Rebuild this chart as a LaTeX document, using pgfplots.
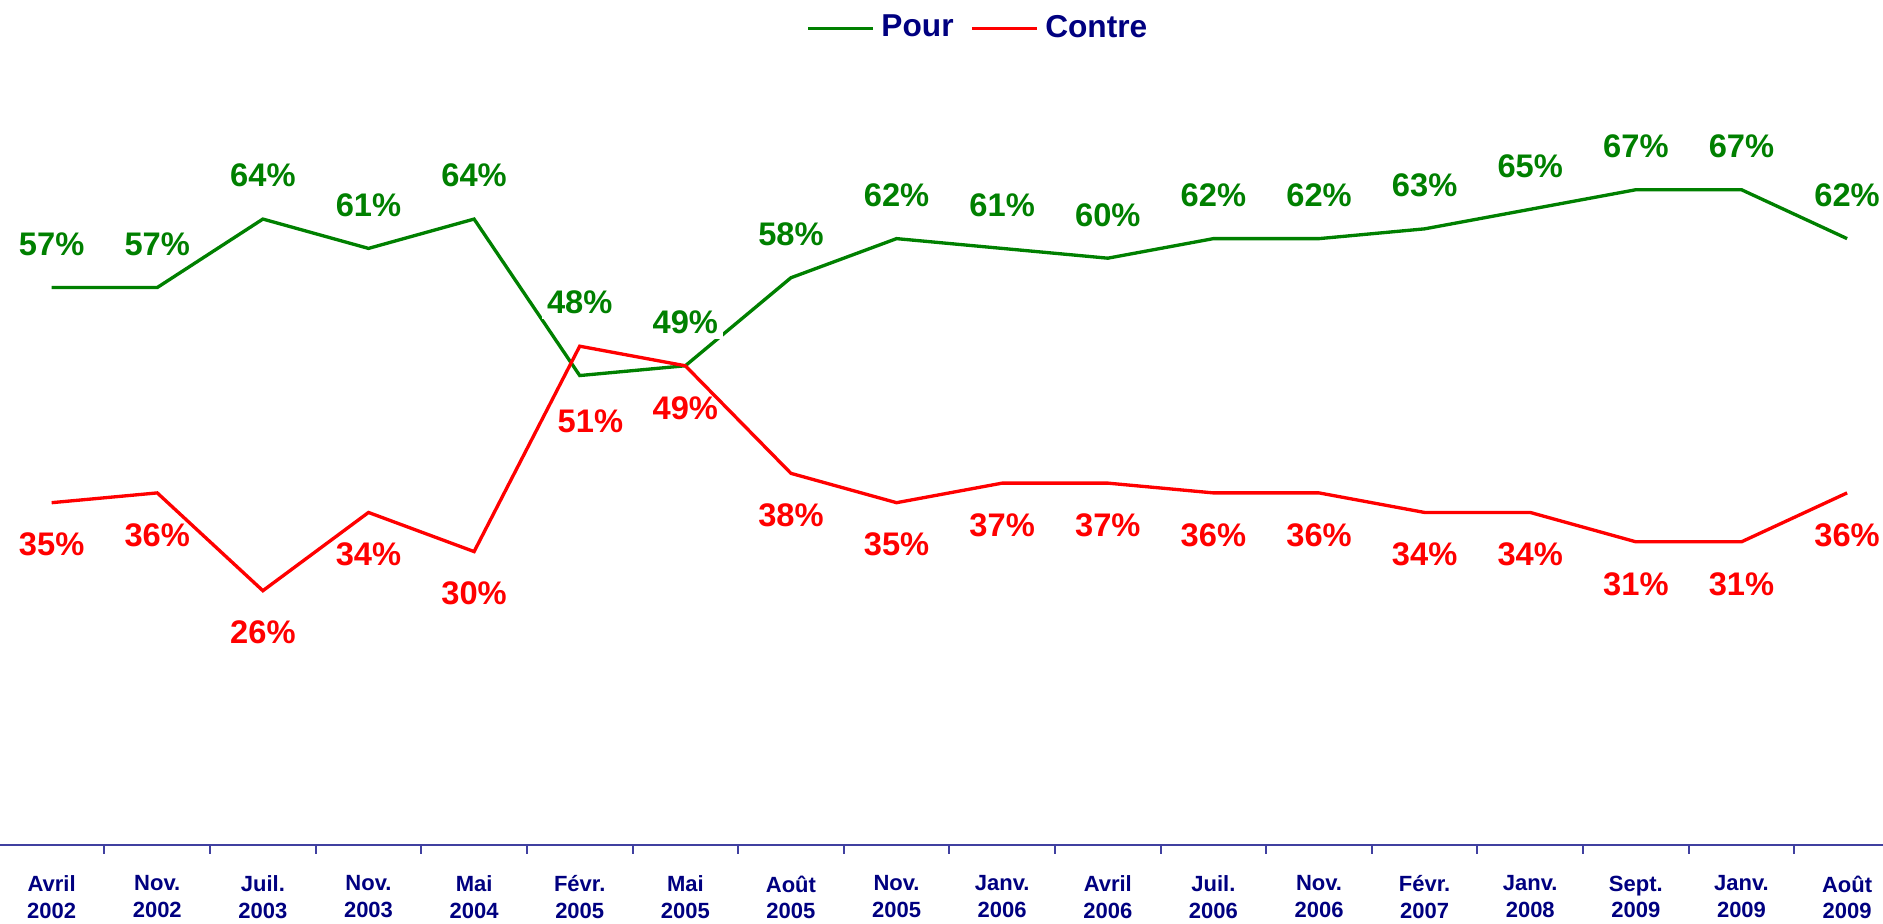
\documentclass[border=0pt]{standalone}
\usepackage{fontspec}
\setmainfont{Liberation Sans}
\usepackage{pgfplots}
\usepackage{pgfplotstable}
\pgfplotsset{compat=1.18}
\definecolor{pourgreen}{RGB}{0,128,0}
\definecolor{contrered}{RGB}{255,0,0}
\definecolor{navytext}{RGB}{0,0,128}
\definecolor{axisblue}{RGB}{64,64,160}

% x: survey index; pdy/cdy/cdx: extra label offsets (pt)
\pgfplotstableread{
x pour contre pdy cdy cdx
0 57 35 0 0 0
1 57 36 0 0 0
2 64 26 0 0 0
3 61 34 0 0 0
4 64 30 0 0 0
5 48 51 9 10 3.2
6 49 49 0 0 0
7 58 38 0 0 0
8 62 35 0 0 0
9 61 37 0 0 0
10 60 37 0 0 0
11 62 36 0 0 0
12 62 36 0 0 0
13 63 34 0 0 0
14 65 34 0 0 0
15 67 31 0 0 0
16 67 31 0 0 0
17 62 36 0 0 0
}\data

\begin{document}
\begin{tikzpicture}
\begin{axis}[
    name=main,
    scale only axis,
    width=564.9pt, height=253.5pt,
    xmin=-0.489, xmax=17.34,
    ymin=0, ymax=86.4,
    /pgf/number format/assume math mode=true,
    axis x line=bottom,
    axis y line=none,
    axis line style={-, draw=axisblue, line width=0.6pt},
    xtick={0,...,17},
    major tick length=0pt,
    minor xtick={0.5,1.5,...,16.5},
    minor tick length=2.7pt,
    tick align=outside,
    tick style={draw=axisblue, line width=0.6pt},
    xticklabels={{Avril\\2002},{Nov.\\2002},{Juil.\\2003},{Nov.\\2003},{Mai\\2004},{Févr.\\2005},{Mai\\2005},{Août\\2005},{Nov.\\2005},{Janv.\\2006},{Avril\\2006},{Juil.\\2006},{Nov.\\2006},{Févr.\\2007},{Janv.\\2008},{Sept.\\2009},{Janv.\\2009},{Août\\2009}},
    xticklabel style={align=center, font=\fontsize{6.6}{8}\selectfont\bfseries,
        text=navytext, yshift=-5.7pt, execute at begin node=\strut},
    legend columns=2,
    legend style={at={(0.5188,1)}, anchor=north, yshift=-0.3pt, draw=none, fill=none,
        font=\fontsize{9.5}{11}\selectfont\bfseries, text=navytext,
        nodes={inner xsep=0pt},
        /tikz/every odd column/.append style={column sep=2pt},
        /tikz/every even column/.append style={column sep=5pt}},
    legend image code/.code={\draw[#1] (0pt,0pt) -- (19.5pt,0pt);},
    nodes near coords={\pgfmathprintnumber{\pgfplotspointmeta}\%},
    clip=false,
]
\addplot[pourgreen, line width=1pt, no markers,
    visualization depends on={\thisrow{pdy} \as \pdy},
    every node near coord/.append style={anchor=center, fill=white, inner sep=1.5pt,
        text=pourgreen, font=\fontsize{9.8}{11}\selectfont\bfseries,
        yshift={(13+\pdy)*1pt}}]
    table[x=x, y=pour] {\data};
\addlegendentry{Pour}
\addplot[contrered, line width=1pt, no markers,
    visualization depends on={\thisrow{cdy} \as \cdy},
    visualization depends on={\thisrow{cdx} \as \cdx},
    every node near coord/.append style={anchor=center, inner sep=1.5pt,
        text=contrered, font=\fontsize{9.8}{11}\selectfont\bfseries,
        yshift={-(12.6+\cdy)*1pt}, xshift={\cdx*1pt}}]
    table[x=x, y=contre] {\data};
\addlegendentry{Contre}
\end{axis}
% fix the page to the plot area plus the tick label band
\pgfresetboundingbox
\path (main.north west) rectangle ([yshift=-23.7pt]main.south east);
\end{tikzpicture}
\end{document}
